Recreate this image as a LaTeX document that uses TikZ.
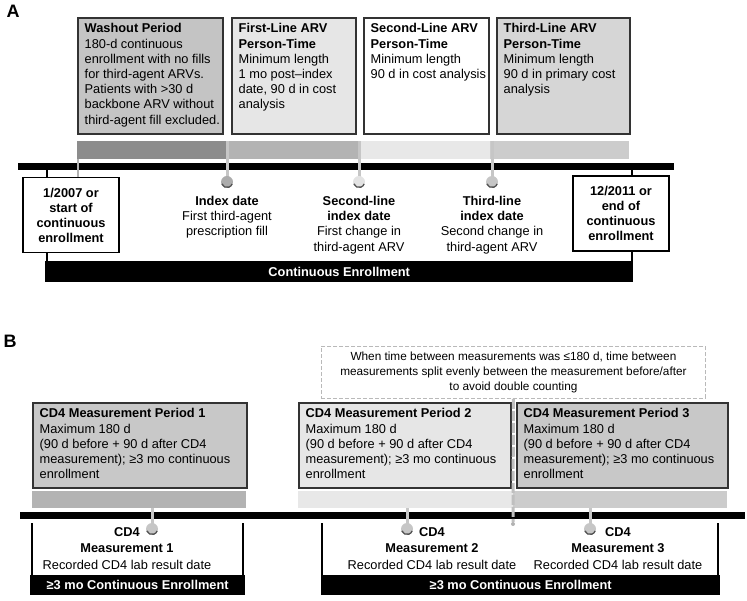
\documentclass[tikz,border=0pt]{standalone}
\usepackage{fontspec}
\setmainfont{Liberation Sans}
\usepackage{tikz}
\usetikzlibrary{arrows}
\definecolor{boxline}{HTML}{333333}
\definecolor{fillwash}{HTML}{C4C4C4}
\definecolor{fillfirst}{HTML}{E6E6E6}
\definecolor{fillthird}{HTML}{D6D6D6}
\definecolor{banddark}{HTML}{8C8C8C}
\definecolor{bandmid}{HTML}{B3B3B3}
\definecolor{bandlight}{HTML}{E8E8E8}
\definecolor{bandthird}{HTML}{CCCCCC}
\definecolor{fillcd}{HTML}{C8C8C8}
\tikzset{
  txt/.style = {inner sep=0pt, font=\fontsize{12.8}{15.2}\selectfont},
  boxtxt/.style = {txt, anchor=north west, align=left},% texte dans une periode
  perbox/.style = {draw=boxline, line width=1.8pt, anchor=north west,
    inner sep=0pt},% boite de periode
  datebox/.style = {txt, draw=black, line width=1.8pt, fill=white, align=center,
    font=\fontsize{12.8}{15}\selectfont\bfseries,
    minimum width=96pt, minimum height=75pt},% debut / fin
  pintxt/.style = {txt, anchor=north, align=center},
  pinball/.style = {circle, inner sep=0pt, minimum size=12pt},
  pinline/.style = {line width=3pt, draw=gray!45},
  ballshade/.style = {line width=1.3pt, draw=gray!65!black},
  enrbar/.style = {fill=black, text=white, inner sep=0pt, anchor=north west,
    font=\fontsize{12.8}{15}\selectfont\bfseries},
  bracket/.style = {line width=2pt, draw=black},
  timeline/.style = {line width=6.5pt, draw=black},
  panel/.style = {inner sep=0pt, font=\fontsize{18}{18}\selectfont\bfseries}
}

\begin{document}
\begin{tikzpicture}[x=1pt, y=-1pt]
  \useasboundingbox (0,0) rectangle (747,601);

  %%% A
  \node [panel] (lblA) at (13,11) {A};
  \node [perbox, fill=fillwash, minimum width=145pt, minimum height=116pt] (wash) at (77,17) {};
  \node [perbox, fill=fillfirst, minimum width=124pt, minimum height=116pt] (first) at (231,17) {};
  \node [perbox, fill=white, minimum width=125pt, minimum height=116pt] (second) at (363,17) {};
  \node [perbox, fill=fillthird, minimum width=133pt, minimum height=116pt] (third) at (496,17) {};
  \node [boxtxt] (washtxt) at ([shift={(7.5pt,-6.5pt)}]wash.north west)
    {\textbf{Washout Period}\\180-d continuous\\enrollment with no fills\\for third-agent ARVs.\\Patients with >30 d\\backbone ARV without\\third-agent fill excluded.};
  \node [boxtxt] (firsttxt) at ([shift={(7.5pt,-6.5pt)}]first.north west)
    {\textbf{First-Line ARV}\\\textbf{Person-Time}\\Minimum length\\1 mo post–index\\date, 90 d in cost\\analysis};
  \node [boxtxt] (secondtxt) at ([shift={(7.5pt,-6.5pt)}]second.north west)
    {\textbf{Second-Line ARV}\\\textbf{Person-Time}\\Minimum length\\90 d in cost analysis};
  \node [boxtxt] (thirdtxt) at ([shift={(7.5pt,-6.5pt)}]third.north west)
    {\textbf{Third-Line ARV}\\\textbf{Person-Time}\\Minimum length\\90 d in primary cost\\analysis};

  % bandes des periodes
  \fill [banddark] (77,141) rectangle (227,159);
  \fill [bandmid] (227,141) rectangle (359,159);
  \fill [bandlight] (359,141) rectangle (490,159);
  \fill [bandthird] (490,141) rectangle (629,159);

  \draw [timeline] (18,166.5) -- (674,166.5);
  \draw [line width=1.5pt, gray!60] (78,159) -- (78,177);

  % inscription continue
  \node [enrbar, minimum width=588pt, minimum height=21pt] (ce) at (45,261) {Continuous Enrollment};
  \coordinate (ceL) at (47,170);
  \coordinate (ceR) at (632,170);
  \draw [bracket] (ceL) -- (ceL |- ce.north);
  \draw [bracket] (ceR) -- (ceR |- ce.north);
  \node [datebox] (start) at (71,215) {1/2007 or\\start of\\continuous\\enrollment};
  \node [datebox] (end) at (621,213.5) {12/2011 or\\end of\\continuous\\enrollment};

  % dates index
  \foreach \px/\bc/\nm in {227/gray!65/ia, 359/gray!22/ib, 492/gray!45/ic}{
    \coordinate (\nm top) at (\px,141);
    \draw [pinline] (\nm top) -- (\px,180);
    \node [pinball, fill=\bc] (\nm) at (\px,182) {};
    \draw [ballshade] ([shift={(-160:5.5pt)}]\nm.center) arc [start angle=-160, end angle=-20, radius=5.5pt];
  }
  \node [pintxt] (ialbl) at (227,196) {\textbf{Index date}\\First third-agent\\prescription fill};
  \node [pintxt] (iblbl) at (359,196) {\textbf{Second-line}\\\textbf{index date}\\First change in\\third-agent ARV};
  \node [pintxt] (iclbl) at (492,196) {\textbf{Third-line}\\\textbf{index date}\\Second change in\\third-agent ARV};

  %%% B
  \node [panel] (lblB) at (10,341) {B};
  \node [perbox, dashed, dash pattern=on 4pt off 2pt, draw=gray!55, line width=0.9pt,
    minimum width=384pt, minimum height=52pt] (note) at (321,346) {};
  \node [txt, font=\fontsize{11.8}{15.3}\selectfont, align=center] (notetxt) at (note.center)
    {When time between measurements was ≤180 d, time between\\measurements split evenly between the measurement before/after\\to avoid double counting};

  \node [perbox, fill=fillcd, minimum width=214pt, minimum height=85pt] (cdA) at (32,402) {};
  \node [perbox, fill=fillfirst, minimum width=212pt, minimum height=85pt] (cdB) at (298,402) {};
  \node [perbox, fill=fillcd, minimum width=211pt, minimum height=85pt] (cdC) at (516,402) {};
  \foreach \nm/\k in {cdA/1, cdB/2, cdC/3}{
    \node [boxtxt, font=\fontsize{12.8}{15.2}\selectfont] (\nm txt) at ([shift={(7.5pt,-6.5pt)}]\nm.north west)
      {\textbf{CD4 Measurement Period \k}\\Maximum 180 d\\(90 d before + 90 d after CD4\\measurement); ≥3 mo continuous\\enrollment};
  }
  \fill [bandmid] (32,491) rectangle (246,508);
  \fill [bandlight] (298,491) rectangle (513,508);
  \fill [bandthird] (513,491) rectangle (727,508);

  \draw [timeline] (20,515.5) -- (745,515.5);

  % separation entre periodes 2 et 3
  \coordinate (sepT) at (note.south);
  \node [circle, fill=gray!60, inner sep=0pt, minimum size=4pt] (sepB) at (513,524) {};
  \draw [line width=3pt, gray!50, dash pattern=on 10pt off 2pt] (sepT) -- (sepB);

  \foreach \px/\nm in {152/ma, 407/mb, 590/mc}{
    \coordinate (\nm top) at (\px,508);
    \draw [pinline] (\nm top) -- (\px,527);
    \node [pinball, fill=gray!45] (\nm) at (\px,529) {};
    \draw [ballshade] ([shift={(-160:5.5pt)}]\nm.center) arc [start angle=-160, end angle=-20, radius=5.5pt];
  }
  \foreach \tx/\k/\nm in {127/1/malbl, 432/2/mblbl, 618/3/mclbl}{
    \node [pintxt, font=\fontsize{12.8}{16.5}\selectfont] (\nm) at (\tx,527)
      {\textbf{CD4}\\\textbf{Measurement \k}\\Recorded CD4 lab result date};
  }

  \node [enrbar, minimum width=215pt, minimum height=20pt] (ceA) at (30,575) {≥3 mo Continuous Enrollment};
  \node [enrbar, minimum width=399pt, minimum height=20pt] (ceB) at (321,575) {≥3 mo Continuous Enrollment};
  \coordinate (bA1) at (32,523);
  \coordinate (bA2) at (243,523);
  \coordinate (bB1) at (322,523);
  \coordinate (bB2) at (718,523);
  \draw [bracket] (bA1) -- (bA1 |- ceA.north);
  \draw [bracket] (bA2) -- (bA2 |- ceA.north);
  \draw [bracket] (bB1) -- (bB1 |- ceB.north);
  \draw [bracket] (bB2) -- (bB2 |- ceB.north);
\end{tikzpicture}
\end{document}
